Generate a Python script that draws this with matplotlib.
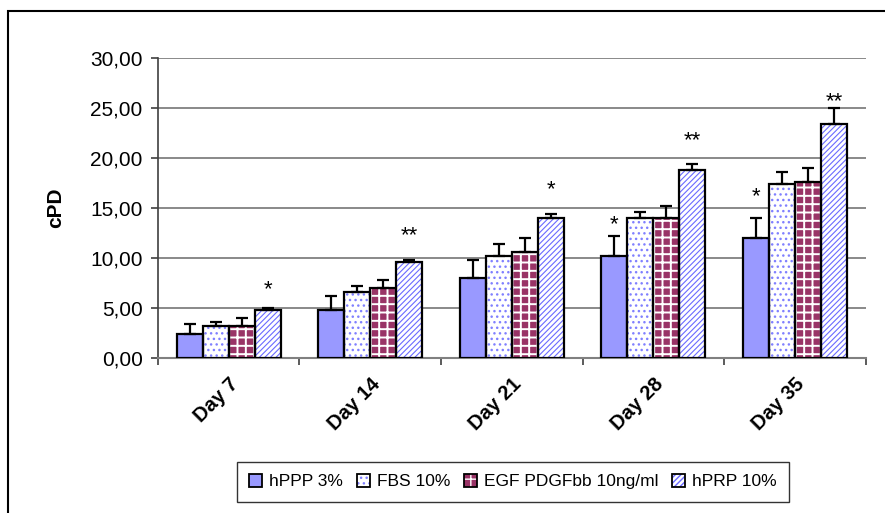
import numpy as np
import matplotlib
matplotlib.use('Agg')
import matplotlib.pyplot as plt
import matplotlib.transforms as mtransforms
from matplotlib.patches import Patch, Rectangle
from matplotlib.legend_handler import HandlerTuple

plt.rcParams['font.family'] = ['Liberation Sans', 'DejaVu Sans']

# data
days = ['Day 7', 'Day 14', 'Day 21', 'Day 28', 'Day 35']
series = ['hPPP 3%', 'FBS 10%', 'EGF PDGFbb 10ng/ml', 'hPRP 10%']
hppp = [2.43, 4.84, 8.00, 10.20, 12.00]
fbs = [3.24, 6.57, 10.20, 14.00, 17.40]
egf = [3.24, 7.00, 10.60, 14.00, 17.60]
hprp = [4.84, 9.60, 14.00, 18.80, 23.40]
hppp_err = [0.97, 1.36, 1.80, 2.00, 2.00]
fbs_err = [0.33, 0.63, 1.20, 0.60, 1.20]
egf_err = [0.76, 0.80, 1.40, 1.20, 1.40]
hprp_err = [0.16, 0.17, 0.40, 0.60, 1.57]
# significance marks: (day index, series index, text, y of star centre)
stars = [(0, 3, '*', 7.0), (1, 3, '**', 12.4), (2, 3, '*', 17.0),
         (3, 0, '*', 13.5), (3, 3, '**', 21.9),
         (4, 0, '*', 16.3), (4, 3, '**', 25.8)]
yticks = [0, 5, 10, 15, 20, 25, 30]

values = [hppp, fbs, egf, hprp]
errors = [hppp_err, fbs_err, egf_err, hprp_err]
# fill / hatch styles for each series
faces = ['#9999FF', 'white', '#993366', 'white']
hatches = [None, '...', '++', '//////']
hcolors = ['#9999FF', '#8080FF', 'white', '#6A6AFF']
hwidths = [1.0, 1.0, 1.4, 0.8]

fig = plt.figure(figsize=(8.85, 5.13), dpi=100)
ax = fig.add_axes([0.1785, 0.302, 0.7995, 0.585])

x = np.arange(len(days))
w = 0.184
handles = []
for i in range(4):
    pos = x + (i - 1.5) * w
    plt.rcParams['hatch.linewidth'] = hwidths[i]
    # hatch layer, then black outline on top
    ax.bar(pos, values[i], w, color=faces[i], hatch=hatches[i],
           edgecolor=hcolors[i], linewidth=0, zorder=3)
    ax.bar(pos, values[i], w, fill=False, edgecolor='black', linewidth=1.6, zorder=4)
    ax.errorbar(pos, values[i], yerr=[np.zeros(len(days)), errors[i]], fmt='none',
                ecolor='black', elinewidth=1.6, capsize=4.5, capthick=1.6, zorder=5)
    handles.append((Patch(facecolor=faces[i], hatch=hatches[i], edgecolor=hcolors[i], linewidth=0),
                    Patch(fill=False, edgecolor='black', linewidth=1.3)))
plt.rcParams['hatch.linewidth'] = 1.0

for d, s, txt, yy in stars:
    ax.text(d + (s - 1.5) * w, yy - 0.75, txt, ha='center', va='baseline',
            fontsize=16, zorder=6)

ax.set_xlim(-0.5, len(days) - 0.5)
ax.set_ylim(0, 30)
ax.set_yticks(yticks)
ax.set_yticklabels([('%.2f' % v).replace('.', ',') for v in yticks], fontsize=15)
ax.yaxis.grid(True, color='#808080', linewidth=1.3)
ax.set_axisbelow(True)

ax.set_xticks(x)
ax.set_xticklabels(days, rotation=45, ha='right', rotation_mode='anchor',
                   fontsize=14.5, fontweight='bold')
shift = mtransforms.ScaledTranslation(-10 / 100, 0, fig.dpi_scale_trans)
for lab in ax.get_xticklabels():
    lab.set_transform(lab.get_transform() + shift)
ax.set_xticks(np.arange(-0.5, len(days)), minor=True)
ax.tick_params(axis='x', which='major', length=0, pad=12)
ax.tick_params(axis='x', which='minor', length=5, width=1.2, color='#404040')
ax.tick_params(axis='y', length=5, width=1.2, color='#404040', pad=6)
for s in ['top', 'right']:
    ax.spines[s].set_visible(False)
ax.spines['left'].set_color('#404040')
ax.spines['bottom'].set_color('#808080')
ax.spines['left'].set_linewidth(1.2)
ax.spines['bottom'].set_linewidth(1.5)

ax.set_ylabel('cPD', fontsize=15, fontweight='bold', labelpad=18)

leg = fig.legend(handles, series, loc='center', bbox_to_anchor=(0.5795, 0.061),
                 ncol=4, fontsize=12.5, frameon=True, fancybox=False,
                 handler_map={tuple: HandlerTuple(ndivide=1)},
                 handlelength=0.75, handleheight=0.75, handletextpad=0.4,
                 columnspacing=0.8, borderpad=0.7)
leg.get_frame().set_edgecolor('black')
leg.get_frame().set_linewidth(1.0)

# outer chart border
fig.patches.append(Rectangle((8 / 885, -0.1), 1.2, 1.1 - 11.5 / 513, fill=False,
                             edgecolor='black', linewidth=1.5,
                             transform=fig.transFigure, figure=fig))

fig.savefig('out.png', dpi=100)
